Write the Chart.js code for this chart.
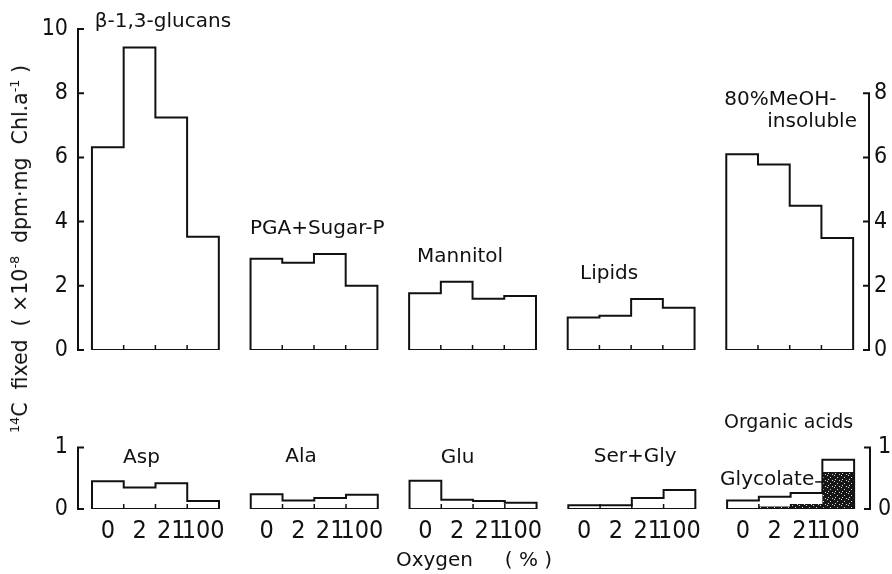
<!DOCTYPE html>
<html>
<head>
<meta charset="utf-8">
<title>14C fixation products under different oxygen levels</title>
<script src="https://cdn.jsdelivr.net/npm/chart.js@4.4.1/dist/chart.umd.min.js"></script>
<style>
  html, body { margin: 0; padding: 0; background: #fff; }
  #wrap { position: relative; width: 892px; height: 574px; overflow: hidden; }
  #wrap canvas { position: absolute; left: 0; top: 0; }
  #yTitle {
    position: absolute; left: 20px; top: 249px; white-space: nowrap;
    font: 20.5px 'DejaVu Sans', sans-serif; color: #111;
    transform: translate(-50%, -50%) rotate(-90deg);
  }
  #yTitle sup { font-size: 0.62em; line-height: 0; }
</style>
</head>
<body>
<div id="wrap">
  <canvas id="upperChart" width="892" height="574"></canvas>
  <canvas id="lowerChart" width="892" height="574"></canvas>
  <div id="yTitle"><sup>14</sup>C&nbsp; fixed&nbsp; ( ×10<sup>-8</sup>&nbsp; dpm·mg&nbsp; Chl.a<sup>-1</sup> )</div>
</div>
<script>
// oxygen levels (%), one bar per level in each group
const oxygenLevels = ['0', '2', '21', '100'];

// upper panel, x10^-8 dpm per mg Chl a
const upperNames = ['β-1,3-glucans', 'PGA+Sugar-P', 'Mannitol', 'Lipids', ['80%MeOH-', 'insoluble']];
const glucans = [6.32, 9.42, 7.24, 3.53];
const sugarPhosphates = [2.84, 2.72, 2.99, 2.00];
const mannitol = [1.77, 2.13, 1.60, 1.68];
const lipids = [1.01, 1.07, 1.59, 1.32];
const meohInsoluble = [6.10, 5.78, 4.49, 3.49];

// lower panel, amino acids and organic acids
const lowerNames = ['Asp', 'Ala', 'Glu', 'Ser+Gly', 'Organic acids'];
const asp = [0.45, 0.35, 0.42, 0.13];
const ala = [0.24, 0.14, 0.18, 0.23];
const glu = [0.46, 0.15, 0.13, 0.10];
const serGly = [0.06, 0.06, 0.18, 0.31];
const organicAcids = [0.14, 0.20, 0.26, 0.80];
const glycolate = [0.01, 0.04, 0.08, 0.60];

// y axis ticks
const upperLeftTicks = [0, 2, 4, 6, 8, 10];
const upperRightTicks = [0, 2, 4, 6, 8];
const lowerTicks = [0, 1];

const INK = '#111';
const TEXT_FONT = "'DejaVu Sans', sans-serif";
const DIGIT_FONT = "'Liberation Sans Narrow', 'DejaVu Sans Condensed', 'DejaVu Sans', sans-serif";

Chart.defaults.font.family = TEXT_FONT;
Chart.defaults.color = INK;

// every group takes 4 slots plus one empty slot before the next one
const groupStart = (k) => k * 5;

// closed step outline of one group: baseline, left edge, steps, right edge
function outlinePoints(values, start) {
    const pts = [{ x: start, y: 0 }];
    values.forEach((v, i) => {
        pts.push({ x: start + i, y: v }, { x: start + i + 1, y: v });
    });
    pts.push({ x: start + values.length, y: 0 }, { x: start, y: 0 });
    return pts;
}

// only the stepped top, used for the filled glycolate part
function stepTop(values, start) {
    const pts = [];
    values.forEach((v, i) => {
        pts.push({ x: start + i, y: v }, { x: start + i + 1, y: v });
    });
    return pts;
}

const outlineStyle = {
    borderColor: INK,
    borderWidth: 2,
    borderJoinStyle: 'miter',
    borderCapStyle: 'square',
    pointRadius: 0,
    tension: 0,
    fill: false,
    order: 0
};

// dark stipple for the glycolate share
function stipple() {
    const c = document.createElement('canvas');
    c.width = 7;
    c.height = 6;
    const g = c.getContext('2d');
    g.fillStyle = '#161616';
    g.fillRect(0, 0, 7, 6);
    g.fillStyle = '#d8d8d8';
    g.fillRect(1, 1, 1, 1);
    g.fillRect(4, 3, 1, 1);
    g.fillRect(6, 0, 1, 1);
    g.fillRect(2, 5, 1, 1);
    return g.createPattern(c, 'repeat');
}

// shared horizontal scale, in bar slots
const xRange = { type: 'linear', min: -0.44, max: 24.5, bounds: 'data' };

function setTicks(values) {
    return (scale) => { scale.ticks = values.map(v => ({ value: v })); };
}

function yAxis(position, max, ticks, width, pad) {
    return {
        type: 'linear',
        position: position,
        min: 0,
        max: max,
        bounds: 'data',
        afterBuildTicks: setTicks(ticks),
        afterFit: (scale) => { scale.width = width; },
        grid: { display: false, drawTicks: false },
        border: { display: false },
        ticks: { padding: pad, font: { family: DIGIT_FONT, size: 23 }, color: INK }
    };
}

// axis lines with short inward ticks, drawn only over the tick range
function axisMarks(axes) {
    return {
        id: 'axisMarks',
        afterDraw(chart) {
            const { ctx, chartArea } = chart;
            ctx.save();
            ctx.strokeStyle = INK;
            ctx.lineWidth = 2;
            ctx.lineCap = 'square';
            axes.forEach(a => {
                const s = chart.scales[a.id];
                const x = a.side === 'left' ? chartArea.left : chartArea.right;
                const dir = a.side === 'left' ? 1 : -1;
                ctx.beginPath();
                ctx.moveTo(x, s.getPixelForValue(Math.max(...a.ticks)));
                ctx.lineTo(x, s.getPixelForValue(0));
                a.ticks.forEach(v => {
                    const py = s.getPixelForValue(v);
                    ctx.moveTo(x, py);
                    ctx.lineTo(x + dir * 5, py);
                });
                ctx.stroke();
            });
            ctx.restore();
        }
    };
}

// little marks on the baseline between neighbouring bars
const boundaryTicks = {
    id: 'boundaryTicks',
    afterDatasetsDraw(chart) {
        const { ctx, scales: { x, y } } = chart;
        const base = y.getPixelForValue(0);
        ctx.save();
        ctx.strokeStyle = INK;
        ctx.lineWidth = 1.5;
        ctx.beginPath();
        for (let k = 0; k < 5; k++) {
            for (let i = 1; i < oxygenLevels.length; i++) {
                const px = x.getPixelForValue(groupStart(k) + i);
                ctx.moveTo(px, base);
                ctx.lineTo(px, base - 5);
            }
        }
        ctx.stroke();
        ctx.restore();
    }
};

// group names, placed in slot / value units
function groupNames(names, places) {
    return {
        id: 'groupNames',
        afterDatasetsDraw(chart) {
            const { ctx, scales: { x, y } } = chart;
            ctx.save();
            ctx.fillStyle = INK;
            ctx.textBaseline = 'alphabetic';
            names.forEach((name, k) => {
                [].concat(name).forEach((line, j) => {
                    const p = places[k][j];
                    ctx.font = `${p.size || 20}px ${TEXT_FONT}`;
                    ctx.textAlign = p.align || 'left';
                    ctx.fillText(line, x.getPixelForValue(p.x), y.getPixelForValue(p.y));
                });
            });
            ctx.restore();
        }
    };
}

const upperPlaces = [
    [{ x: 0.09, y: 10.06 }],
    [{ x: 4.98, y: 3.61 }],
    [{ x: 10.25, y: 2.75 }],
    [{ x: 15.39, y: 2.20 }],
    [{ x: 19.94, y: 7.62 }, { x: 24.12, y: 6.94, align: 'right' }]
];

const lowerPlaces = [
    [{ x: 0.98, y: 0.756 }],
    [{ x: 6.09, y: 0.77 }],
    [{ x: 10.98, y: 0.756 }],
    [{ x: 15.8, y: 0.77 }],
    [{ x: 19.9, y: 1.315, size: 19 }]
];

// "Glycolate" with its leader to the 100 % bar
const glycolateNote = {
    id: 'glycolateNote',
    afterDatasetsDraw(chart) {
        const { ctx, scales: { x, y } } = chart;
        const px = x.getPixelForValue(19.78);
        const py = y.getPixelForValue(0.395);
        ctx.save();
        ctx.fillStyle = INK;
        ctx.strokeStyle = INK;
        ctx.font = `20px ${TEXT_FONT}`;
        ctx.textAlign = 'left';
        ctx.fillText('Glycolate', px, py);
        const end = px + ctx.measureText('Glycolate').width + 1;
        ctx.lineWidth = 1.5;
        ctx.beginPath();
        ctx.moveTo(end, y.getPixelForValue(0.44));
        ctx.lineTo(x.getPixelForValue(groupStart(4) + 3), y.getPixelForValue(0.44));
        ctx.stroke();
        ctx.restore();
    }
};

const upperSeries = [glucans, sugarPhosphates, mannitol, lipids, meohInsoluble];
const lowerSeries = [asp, ala, glu, serGly, organicAcids];

const upperChart = new Chart(document.getElementById('upperChart'), {
    type: 'line',
    data: {
        datasets: upperSeries.map((vals, k) => ({
            label: [].concat(upperNames[k]).join(' '),
            data: outlinePoints(vals, groupStart(k)),
            ...outlineStyle
        }))
    },
    options: {
        responsive: false,
        animation: false,
        devicePixelRatio: 1,
        layout: { padding: { top: 29, bottom: 224, left: 0, right: 0 } },
        plugins: { legend: { display: false }, tooltip: { enabled: false } },
        scales: {
            x: { ...xRange, display: false },
            y: yAxis('left', 10, upperLeftTicks, 78, 10),
            yRight: yAxis('right', 10, upperRightTicks, 23, 5)
        }
    },
    plugins: [
        axisMarks([
            { id: 'y', side: 'left', ticks: upperLeftTicks },
            { id: 'yRight', side: 'right', ticks: upperRightTicks }
        ]),
        boundaryTicks,
        groupNames(upperNames, upperPlaces)
    ]
});

const lowerCanvas = document.getElementById('lowerChart');
const lowerDatasets = lowerSeries.map((vals, k) => ({
    label: lowerNames[k],
    data: outlinePoints(vals, groupStart(k)),
    ...outlineStyle
}));
lowerDatasets.push({
    label: 'Glycolate',
    data: stepTop(glycolate, groupStart(4)),
    borderWidth: 0,
    pointRadius: 0,
    tension: 0,
    fill: 'origin',
    backgroundColor: stipple(),
    order: 1
});

// oxygen labels sit under the middle of every bar
const barCentres = [];
for (let k = 0; k < 5; k++) {
    oxygenLevels.forEach((lvl, i) => barCentres.push(groupStart(k) + i + 0.5));
}

const lowerChart = new Chart(lowerCanvas, {
    type: 'line',
    data: { datasets: lowerDatasets },
    options: {
        responsive: false,
        animation: false,
        devicePixelRatio: 1,
        layout: { padding: { top: 447.5, bottom: 0, left: 0, right: 0 } },
        plugins: { legend: { display: false }, tooltip: { enabled: false } },
        scales: {
            x: {
                ...xRange,
                afterBuildTicks: setTicks(barCentres),
                afterFit: (scale) => { scale.height = 65; },
                grid: { display: false, drawTicks: false },
                border: { display: false },
                ticks: {
                    autoSkip: false,
                    maxRotation: 0,
                    minRotation: 0,
                    padding: 7,
                    font: { family: DIGIT_FONT, size: 25 },
                    color: INK,
                    callback: (value, index) => oxygenLevels[index % oxygenLevels.length]
                },
                title: {
                    display: true,
                    text: 'Oxygen     ( % )',
                    font: { family: TEXT_FONT, size: 20 },
                    color: INK,
                    padding: { top: 0, bottom: 1 }
                }
            },
            y: yAxis('left', 1, lowerTicks, 78, 10),
            yRight: yAxis('right', 1, lowerTicks, 22, 8)
        }
    },
    plugins: [
        axisMarks([
            { id: 'y', side: 'left', ticks: lowerTicks },
            { id: 'yRight', side: 'right', ticks: lowerTicks }
        ]),
        boundaryTicks,
        groupNames(lowerNames, lowerPlaces),
        glycolateNote
    ]
});
</script>
</body>
</html>
